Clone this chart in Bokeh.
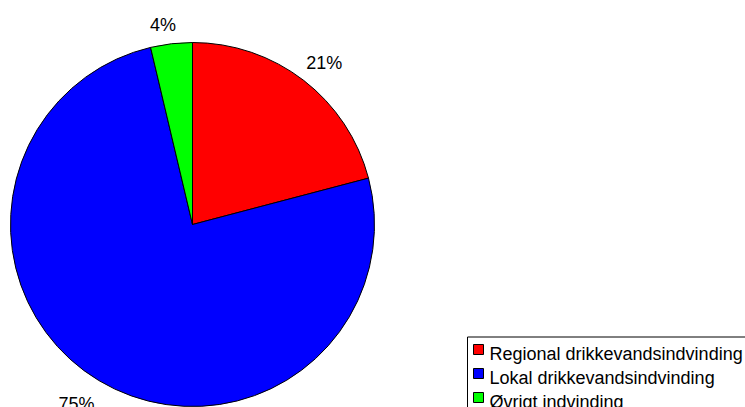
import math
from bokeh.plotting import figure
from bokeh.models import ColumnDataSource, Range1d
from bokeh.embed import file_html
from bokeh.resources import INLINE
from bokeh.core.properties import value

categories = ["Regional drikkevandsindvinding", "Lokal drikkevandsindvinding", "Øvrigt indvinding"]
shares = [20.9, 75.4, 3.7]
colors = ["#FF0000", "#0000FF", "#00FF00"]

FONT = "Liberation Sans"
W, H = 745, 407
CX, CY, R = 192, 183, 182

total = sum(shares)
starts, ends, lx, ly, labels = [], [], [], [], []
cum = 0.0
for s in shares:
    a0 = math.pi / 2 - 2 * math.pi * cum / total
    cum += s
    a1 = math.pi / 2 - 2 * math.pi * cum / total
    starts.append(a0)
    ends.append(a1)
    mid = (a0 + a1) / 2
    ux, uy = math.cos(mid), math.sin(mid)
    txt = f"{round(100 * s / total)}%"
    hw = 0.5 * 18 * (0.556 * (len(txt) - 1) + 0.889)
    hh = 9
    d = R + 10 + 8 * max(0.0, -uy)
    lx.append(CX + d * ux + hw * (ux + math.copysign(1, ux)) / 2)
    ly.append(CY + d * uy + hh * math.copysign(1, uy))
    labels.append(txt)

src = ColumnDataSource(dict(cat=categories, start=starts, end=ends, color=colors))
lab = ColumnDataSource(dict(x=lx, y=ly, text=labels))

p = figure(width=W, height=H, output_backend="svg", toolbar_location=None,
           x_range=Range1d(0, W), y_range=Range1d(0, H), min_border=0,
           x_axis_type=None, y_axis_type=None)
p.grid.visible = False
p.outline_line_color = None
p.background_fill_color = "white"
p.border_fill_color = "white"

p.wedge(x=CX, y=CY, radius=R, start_angle="start", end_angle="end",
        direction="clock", fill_color="color", line_color="black",
        line_width=1, source=src)

p.text(x="x", y="y", text="text", source=lab, text_align="center",
       text_baseline="middle", text_font=value(FONT), text_font_size="18px",
       text_color="black")

# legend (drawn manually to match the original layout)
LX, LTOP, PITCH = 467, H - 336.5, 24
p.quad(left=LX, right=W + 20, top=LTOP, bottom=-20, fill_color="white",
       line_color="black", line_width=1)
leg = ColumnDataSource(dict(
    sy=[LTOP - 12.5 - PITCH * i for i in range(len(categories))],
    ty=[LTOP - 17 - PITCH * i for i in range(len(categories))],
    text=categories, color=colors))
p.rect(x=478, y="sy", width=10, height=10, fill_color="color",
       line_color="black", line_width=1, source=leg)
p.text(x=489, y="ty", text="text", source=leg, text_align="left",
       text_baseline="alphabetic", text_font=value(FONT),
       text_font_size="18px", text_color="black")

open("out.html", "w").write(file_html(p, INLINE))
